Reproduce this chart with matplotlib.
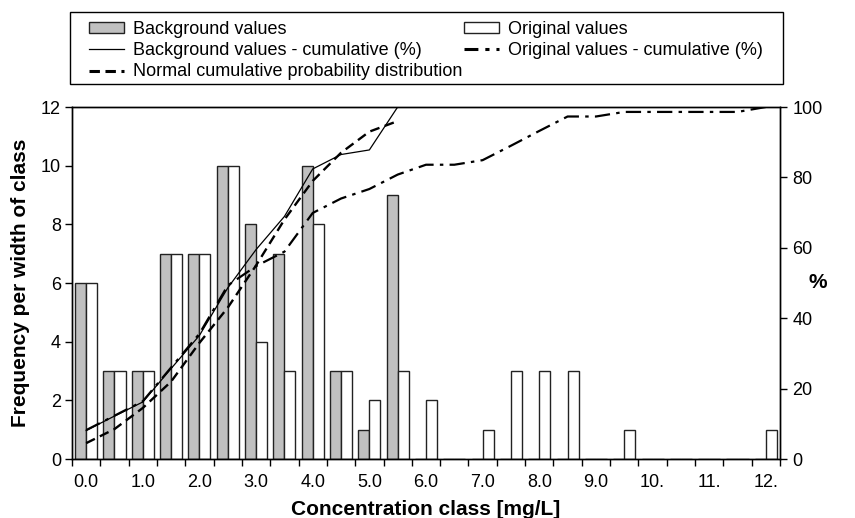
import numpy as np
import matplotlib
matplotlib.use("Agg")
import matplotlib.pyplot as plt
from matplotlib.patches import Patch, Rectangle
from matplotlib.lines import Line2D

plt.rcParams["font.family"] = ["Liberation Sans", "DejaVu Sans"]
plt.rcParams["lines.scale_dashes"] = False

# concentration classes [mg/L], step 0.5
classes = [0.0, 0.5, 1.0, 1.5, 2.0, 2.5, 3.0, 3.5, 4.0, 4.5, 5.0, 5.5, 6.0,
           6.5, 7.0, 7.5, 8.0, 8.5, 9.0, 9.5, 10.0, 10.5, 11.0, 11.5, 12.0]
class_labels = ["0.0", "1.0", "2.0", "3.0", "4.0", "5.0", "6.0",
                "7.0", "8.0", "9.0", "10.", "11.", "12."]

background = [6, 3, 3, 7, 7, 10, 8, 7, 10, 3, 1, 9, 0,
              0, 0, 0, 0, 0, 0, 0, 0, 0, 0, 0, 0]
original = [6, 3, 3, 7, 7, 10, 4, 3, 8, 3, 2, 3, 2,
            0, 1, 3, 3, 3, 0, 1, 0, 0, 0, 0, 1]

# cumulative curves (%)
background_cum = [8.1, 12.2, 16.2, 25.7, 35.1, 48.6, 59.5, 68.9, 82.4, 86.5, 87.8, 100.0]
original_cum = [8.2, 12.3, 16.4, 26.0, 35.6, 49.3, 54.8, 58.9, 69.9, 74.0, 76.7, 80.8,
                83.6, 83.6, 84.9, 89.0, 93.2, 97.3, 97.3, 98.6, 98.6, 98.6, 98.6, 98.6, 100.0]
normal_cum = [4.5, 8.5, 14.5, 22.0, 33.0, 43.0, 55.0, 68.0, 79.0, 87.0, 93.0, 96.0]


def main():
    W, H = 855, 518
    fg = plt.figure(figsize=(W / 100, H / 100), dpi=100)
    ax = fg.add_axes([72 / W, 1 - 459 / H, 708 / W, 352 / H])
    ax2 = ax.twinx()

    idx = np.arange(len(classes))
    w = 0.39
    edge = "#222222"
    ax.bar(idx - w / 2, background, width=w, color="#c0c0c0", edgecolor=edge, linewidth=1.0)
    ax.bar(idx + w / 2, original, width=w, color="white", edgecolor=edge, linewidth=1.0)

    ax.set_xlim(-0.5, len(classes) - 0.5)
    ax.set_ylim(0, 12)
    ax.set_yticks(range(0, 13, 2))
    ax.set_xticks(np.arange(len(classes) + 1) - 0.5)
    ax.set_xticklabels([])
    ax.set_xticks(idx[::2], minor=True)
    ax.set_xticklabels(class_labels, minor=True)
    ax.tick_params(axis="x", which="minor", length=0, pad=10.5, labelsize=13)
    ax.tick_params(axis="x", which="major", length=5, width=1, direction="out")
    ax.tick_params(axis="y", length=5, width=1, direction="out", labelsize=13, pad=3)

    ax2.plot(idx[:len(background_cum)], background_cum, color="black", linewidth=0.9)
    ax2.plot(idx, original_cum, color="black", linewidth=1.6,
             linestyle=(0, (11, 4.5, 2.5, 4.5)))
    ax2.plot(idx[:len(normal_cum)], normal_cum, color="black", linewidth=1.7,
             linestyle=(0, (7, 4)))
    ax2.set_ylim(0, 100)
    ax2.set_yticks(range(0, 101, 20))
    ax2.tick_params(axis="y", length=5, width=1, direction="out", labelsize=13, pad=4)

    for a in (ax, ax2):
        for s in a.spines.values():
            s.set_linewidth(1.0)

    ax.set_xlabel("Concentration class [mg/L]", fontsize=15, fontweight="bold", labelpad=7)
    ax.set_ylabel("Frequency per width of class", fontsize=15, fontweight="bold", labelpad=8)
    fg.text(818 / W, 1 - 283 / H, "%", fontsize=15, fontweight="bold",
            ha="center", va="center")

    # legend box drawn separately so its padding can follow the reference
    fg.patches.append(Rectangle((70 / W, 1 - 84 / H), 713 / W, 72 / H,
                                transform=fg.transFigure, fill=False,
                                edgecolor="black", linewidth=1.0))
    handles = [
        Patch(facecolor="#c0c0c0", edgecolor=edge, linewidth=1.0),
        Line2D([], [], color="black", linewidth=0.9),
        Line2D([], [], color="black", linewidth=2.2, linestyle=(0, (7.5, 4))),
        Patch(facecolor="white", edgecolor=edge, linewidth=1.0),
        Line2D([], [], color="black", linewidth=2.2, linestyle=(0, (10, 5, 3, 5))),
    ]
    labels = [
        "Background values",
        "Background values - cumulative (%)",
        "Normal cumulative probability distribution",
        "Original values",
        "Original values - cumulative (%)",
    ]
    fg.legend(handles, labels, ncol=2, loc="upper left",
              bbox_to_anchor=(89 / W, 1 - 21 / H), fontsize=13,
              frameon=False, handlelength=1.95, handleheight=0.5,
              handletextpad=0.5, columnspacing=0.05, labelspacing=0.23,
              borderpad=0, borderaxespad=0)

    fg.savefig("out.png", dpi=100)


if __name__ == "__main__":
    main()
